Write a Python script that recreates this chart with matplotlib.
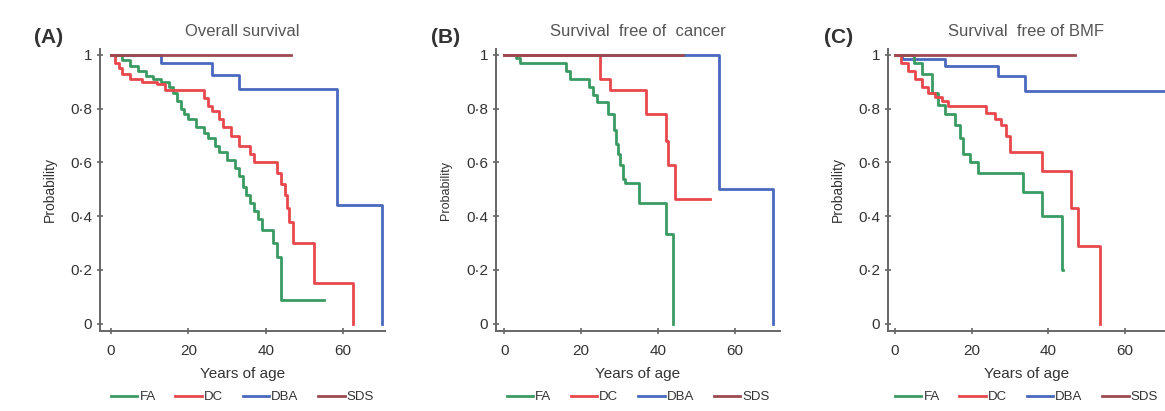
import matplotlib
matplotlib.use("Agg")
from matplotlib import pyplot as plt

plt.rcParams['font.family'] = ['Liberation Sans', 'DejaVu Sans']

groups = ['FA', 'DC', 'DBA', 'SDS']
colors = {'FA': '#3a9a62', 'DC': '#e8474c', 'DBA': '#4a68bd', 'SDS': '#9c4a50'}

# (A) Overall survival: event ages and survival after each step, last point = end of follow-up
a_fa_t = [0, 3, 5, 7, 9, 11, 13, 15, 16, 17, 18, 19, 20, 22, 24, 25, 27, 28, 30, 32, 33, 34, 35, 36, 37, 38, 39, 42, 43, 44, 55]
a_fa_s = [1.0, 0.98, 0.96, 0.94, 0.92, 0.91, 0.90, 0.88, 0.86, 0.83, 0.80, 0.78, 0.76, 0.73, 0.71, 0.69, 0.66, 0.64, 0.61, 0.58, 0.55, 0.51, 0.48, 0.45, 0.42, 0.39, 0.35, 0.30, 0.25, 0.09, 0.09]
a_dc_t = [0, 1, 2, 3, 5, 8, 12, 14, 24, 25, 26, 28, 29, 31, 33, 36, 37, 43, 44, 45, 45.5, 46, 47, 52.5, 62.5]
a_dc_s = [1.0, 0.97, 0.95, 0.93, 0.91, 0.90, 0.89, 0.87, 0.84, 0.81, 0.79, 0.76, 0.73, 0.70, 0.66, 0.63, 0.60, 0.56, 0.52, 0.48, 0.43, 0.38, 0.30, 0.15, 0.0]
a_dba_t = [0, 13, 26, 33, 58.5, 70]
a_dba_s = [1.0, 0.97, 0.925, 0.875, 0.44, 0.0]
a_sds_t = [0, 46.5]
a_sds_s = [1.0, 1.0]

# (B) Survival free of cancer
b_fa_t = [0, 3, 4, 16, 17, 22, 23, 24, 27, 28.5, 29, 29.5, 30, 31, 31.5, 35, 42, 44]
b_fa_s = [1.0, 0.99, 0.97, 0.94, 0.91, 0.88, 0.85, 0.825, 0.78, 0.72, 0.67, 0.63, 0.59, 0.54, 0.525, 0.45, 0.335, 0.0]
b_dc_t = [0, 25, 27.5, 37, 42, 42.5, 44.5, 53.5]
b_dc_s = [1.0, 0.91, 0.87, 0.78, 0.68, 0.59, 0.465, 0.465]
b_dba_t = [0, 56, 70]
b_dba_s = [1.0, 0.5, 0.0]
b_sds_t = [0, 46.5]
b_sds_s = [1.0, 1.0]

# (C) Survival free of BMF
c_fa_t = [0, 5, 7, 9.6, 11.3, 13, 15.6, 17, 17.8, 19.6, 21.6, 33.5, 38.3, 43.7, 43.8]
c_fa_s = [1.0, 0.97, 0.93, 0.86, 0.815, 0.78, 0.74, 0.69, 0.63, 0.60, 0.56, 0.49, 0.40, 0.20, 0.20]
c_dc_t = [0, 1.7, 3.5, 5.2, 7, 8.7, 10.4, 12.2, 13.9, 23.9, 26, 27.8, 29, 30, 38.3, 46, 47.8, 53.5]
c_dc_s = [1.0, 0.97, 0.94, 0.91, 0.88, 0.86, 0.845, 0.83, 0.81, 0.785, 0.76, 0.74, 0.70, 0.64, 0.57, 0.43, 0.29, 0.0]
c_dba_t = [0, 2, 13, 26.8, 34, 75]
c_dba_s = [1.0, 0.985, 0.96, 0.92, 0.865, 0.865]
c_sds_t = [0, 47]
c_sds_s = [1.0, 1.0]

panels = [
    ('(A)', 'Overall survival',
     {'FA': (a_fa_t, a_fa_s), 'DC': (a_dc_t, a_dc_s), 'DBA': (a_dba_t, a_dba_s), 'SDS': (a_sds_t, a_sds_s)}),
    ('(B)', 'Survival  free of  cancer',
     {'FA': (b_fa_t, b_fa_s), 'DC': (b_dc_t, b_dc_s), 'DBA': (b_dba_t, b_dba_s), 'SDS': (b_sds_t, b_sds_s)}),
    ('(C)', 'Survival  free of BMF',
     {'FA': (c_fa_t, c_fa_s), 'DC': (c_dc_t, c_dc_s), 'DBA': (c_dba_t, c_dba_s), 'SDS': (c_sds_t, c_sds_s)}),
]

W, H = 1165, 411
# axes boxes in pixels: left, right, xlim
boxes = [(100, 385, (-2.8, 70.8)), (496, 780, (-2.2, 71.8)), (888, 1165, (-1.75, 70.4))]
ytick_labels = ['0', '0\u00b72', '0\u00b74', '0\u00b76', '0\u00b78', '1']
yticks = [0, 0.2, 0.4, 0.6, 0.8, 1.0]

fig = plt.figure(figsize=(W / 100, H / 100), dpi=100)
fig.patch.set_facecolor('white')

for (tag, title, data), (l, r, xl) in zip(panels, boxes):
    bottom_px, top_px = 331, 49
    ax = fig.add_axes([l / W, (H - bottom_px) / H, (r - l) / W, (bottom_px - top_px) / H])
    for g in ['DBA', 'FA', 'DC', 'SDS']:
        t, s = data[g]
        ax.step(t, s, where='post', color=colors[g], lw=2.0, label=g, clip_on=(tag == '(C)' and g == 'DBA'))
    ax.set_xlim(*xl)
    ax.set_ylim(-0.027, 1.022)
    ax.set_xticks([0, 20, 40, 60])
    ax.set_yticks(yticks)
    ax.set_yticklabels(ytick_labels)
    for sp in ['top', 'right']:
        ax.spines[sp].set_visible(False)
    for sp in ['left', 'bottom']:
        ax.spines[sp].set_color('#666666')
        ax.spines[sp].set_linewidth(1.4)
    ax.tick_params(direction='inout', length=5, width=1.2, color='#666666', labelcolor='#333333', labelsize=11)
    ax.tick_params(axis='x', pad=7)
    ax.tick_params(axis='y', pad=3)
    ax.set_xlabel('Years of age', fontsize=11, color='#333333', labelpad=6)
    ax.set_ylabel('Probability', fontsize=10 if tag != '(B)' else 9, color='#333333', labelpad=10)
    ax.set_title(title, fontsize=12, color='#555555', pad=9)
    ax.text(-0.23, 1.02, tag, transform=ax.transAxes, fontsize=15, fontweight='bold', color='#333333')
    handles, labels = ax.get_legend_handles_labels()
    order = [labels.index(g) for g in groups]
    ax.legend([handles[i] for i in order], [labels[i] for i in order], loc='center',
              bbox_to_anchor=(0.5, -0.235), ncol=4, frameon=False, fontsize=9.5, handlelength=2.0,
              handletextpad=0.15, columnspacing=1.5, labelcolor='#333333')

fig.savefig('out.png', dpi=100, facecolor='white')
